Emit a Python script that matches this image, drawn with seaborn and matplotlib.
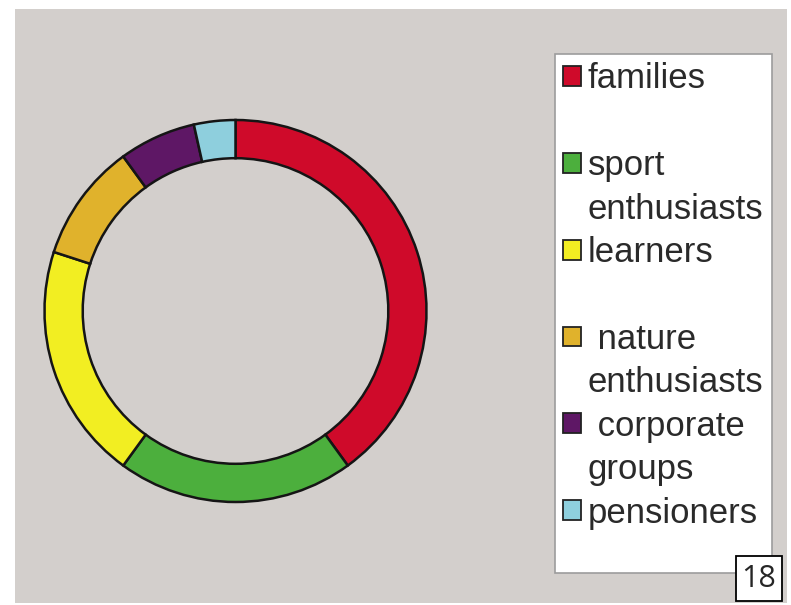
import numpy as np
import seaborn as sns
import matplotlib.pyplot as plt
from matplotlib.patches import Patch, Rectangle

# segment shares of the ring, read clockwise from 12 o'clock
segments = ["families", "sport enthusiasts", "learners",
            "nature enthusiasts", "corporate groups", "pensioners"]
shares = [40, 20, 20, 10, 6.5, 3.5]
colors = ["#cf0a2a", "#4caf3d", "#f2ee22", "#e0b22c", "#5e1765", "#8ecfdd"]

# legend text as it is broken in the picture (first line, second line)
legend_lines = [("families", " "), ("sport", "enthusiasts"), ("learners", " "),
                (" nature", "enthusiasts"), (" corporate", "groups"),
                ("pensioners", " ")]
page_number = "18"

sns.set_style("white")
plt.rcParams["font.family"] = ["Liberation Sans", "DejaVu Sans"]

W, H = 791, 605
fig = plt.figure(figsize=(W / 100, H / 100), dpi=100, facecolor="white")

# grey panel behind everything
fig.patches.append(Rectangle((15 / W, 1 - 603 / H), (787 - 15) / W, (603 - 9) / H,
                             transform=fig.transFigure, facecolor="#d3cfcc",
                             edgecolor="none", zorder=-5))

# donut
cx, cy, r = 235.5, 311, 191
half = 196
ax = fig.add_axes([(cx - half) / W, (H - cy - half) / H, 2 * half / W, 2 * half / H])
ax.set_zorder(2)
ax.patch.set_visible(False)
palette = sns.color_palette(colors)
wedges, _ = ax.pie(shares, colors=palette, startangle=90, counterclock=False,
                   radius=1, wedgeprops=dict(width=0.2, edgecolor="#151515",
                                             linewidth=1.8))
lim = half / r
ax.set_xlim(-lim, lim)
ax.set_ylim(-lim, lim)
ax.set_aspect("equal")
ax.axis("off")

# legend, one row per printed line
handles, labels = [], []
for col, (first, second) in zip(palette, legend_lines):
    handles.append(Patch(facecolor=col, edgecolor="#222222", linewidth=1.3))
    labels.append(first)
    handles.append(Patch(facecolor="none", edgecolor="none"))
    labels.append(second)

leg = fig.legend(handles, labels, loc="upper left",
                 bbox_to_anchor=(555 / W, 1 - 54 / H),
                 bbox_transform=fig.transFigure, borderaxespad=0,
                 fontsize=25, handlelength=0.5, handleheight=0.5,
                 handletextpad=0.2, labelspacing=0.3, borderpad=0.24,
                 frameon=True, fancybox=False, framealpha=1)
leg.set_zorder(3)
leg.get_frame().set_edgecolor("#9c9c9c")
leg.get_frame().set_linewidth(1.2)
for t in leg.get_texts():
    t.set_color("#2a2a2a")
# the trailing blank line is only padding at the bottom of the box
leg.get_texts()[-1].set_fontsize(10)

# page number box
fig.patches.append(Rectangle((736 / W, 1 - 601 / H), 46 / W, 45 / H,
                             transform=fig.transFigure, facecolor="white",
                             edgecolor="black", linewidth=1.3, zorder=4))
fig.text(759 / W, 1 - 579 / H, page_number, ha="center", va="center",
         fontsize=22, family=["Liberation Sans Narrow", "Open Sans", "DejaVu Sans"],
         zorder=5)

fig.savefig("out.png", dpi=100, facecolor="white")
